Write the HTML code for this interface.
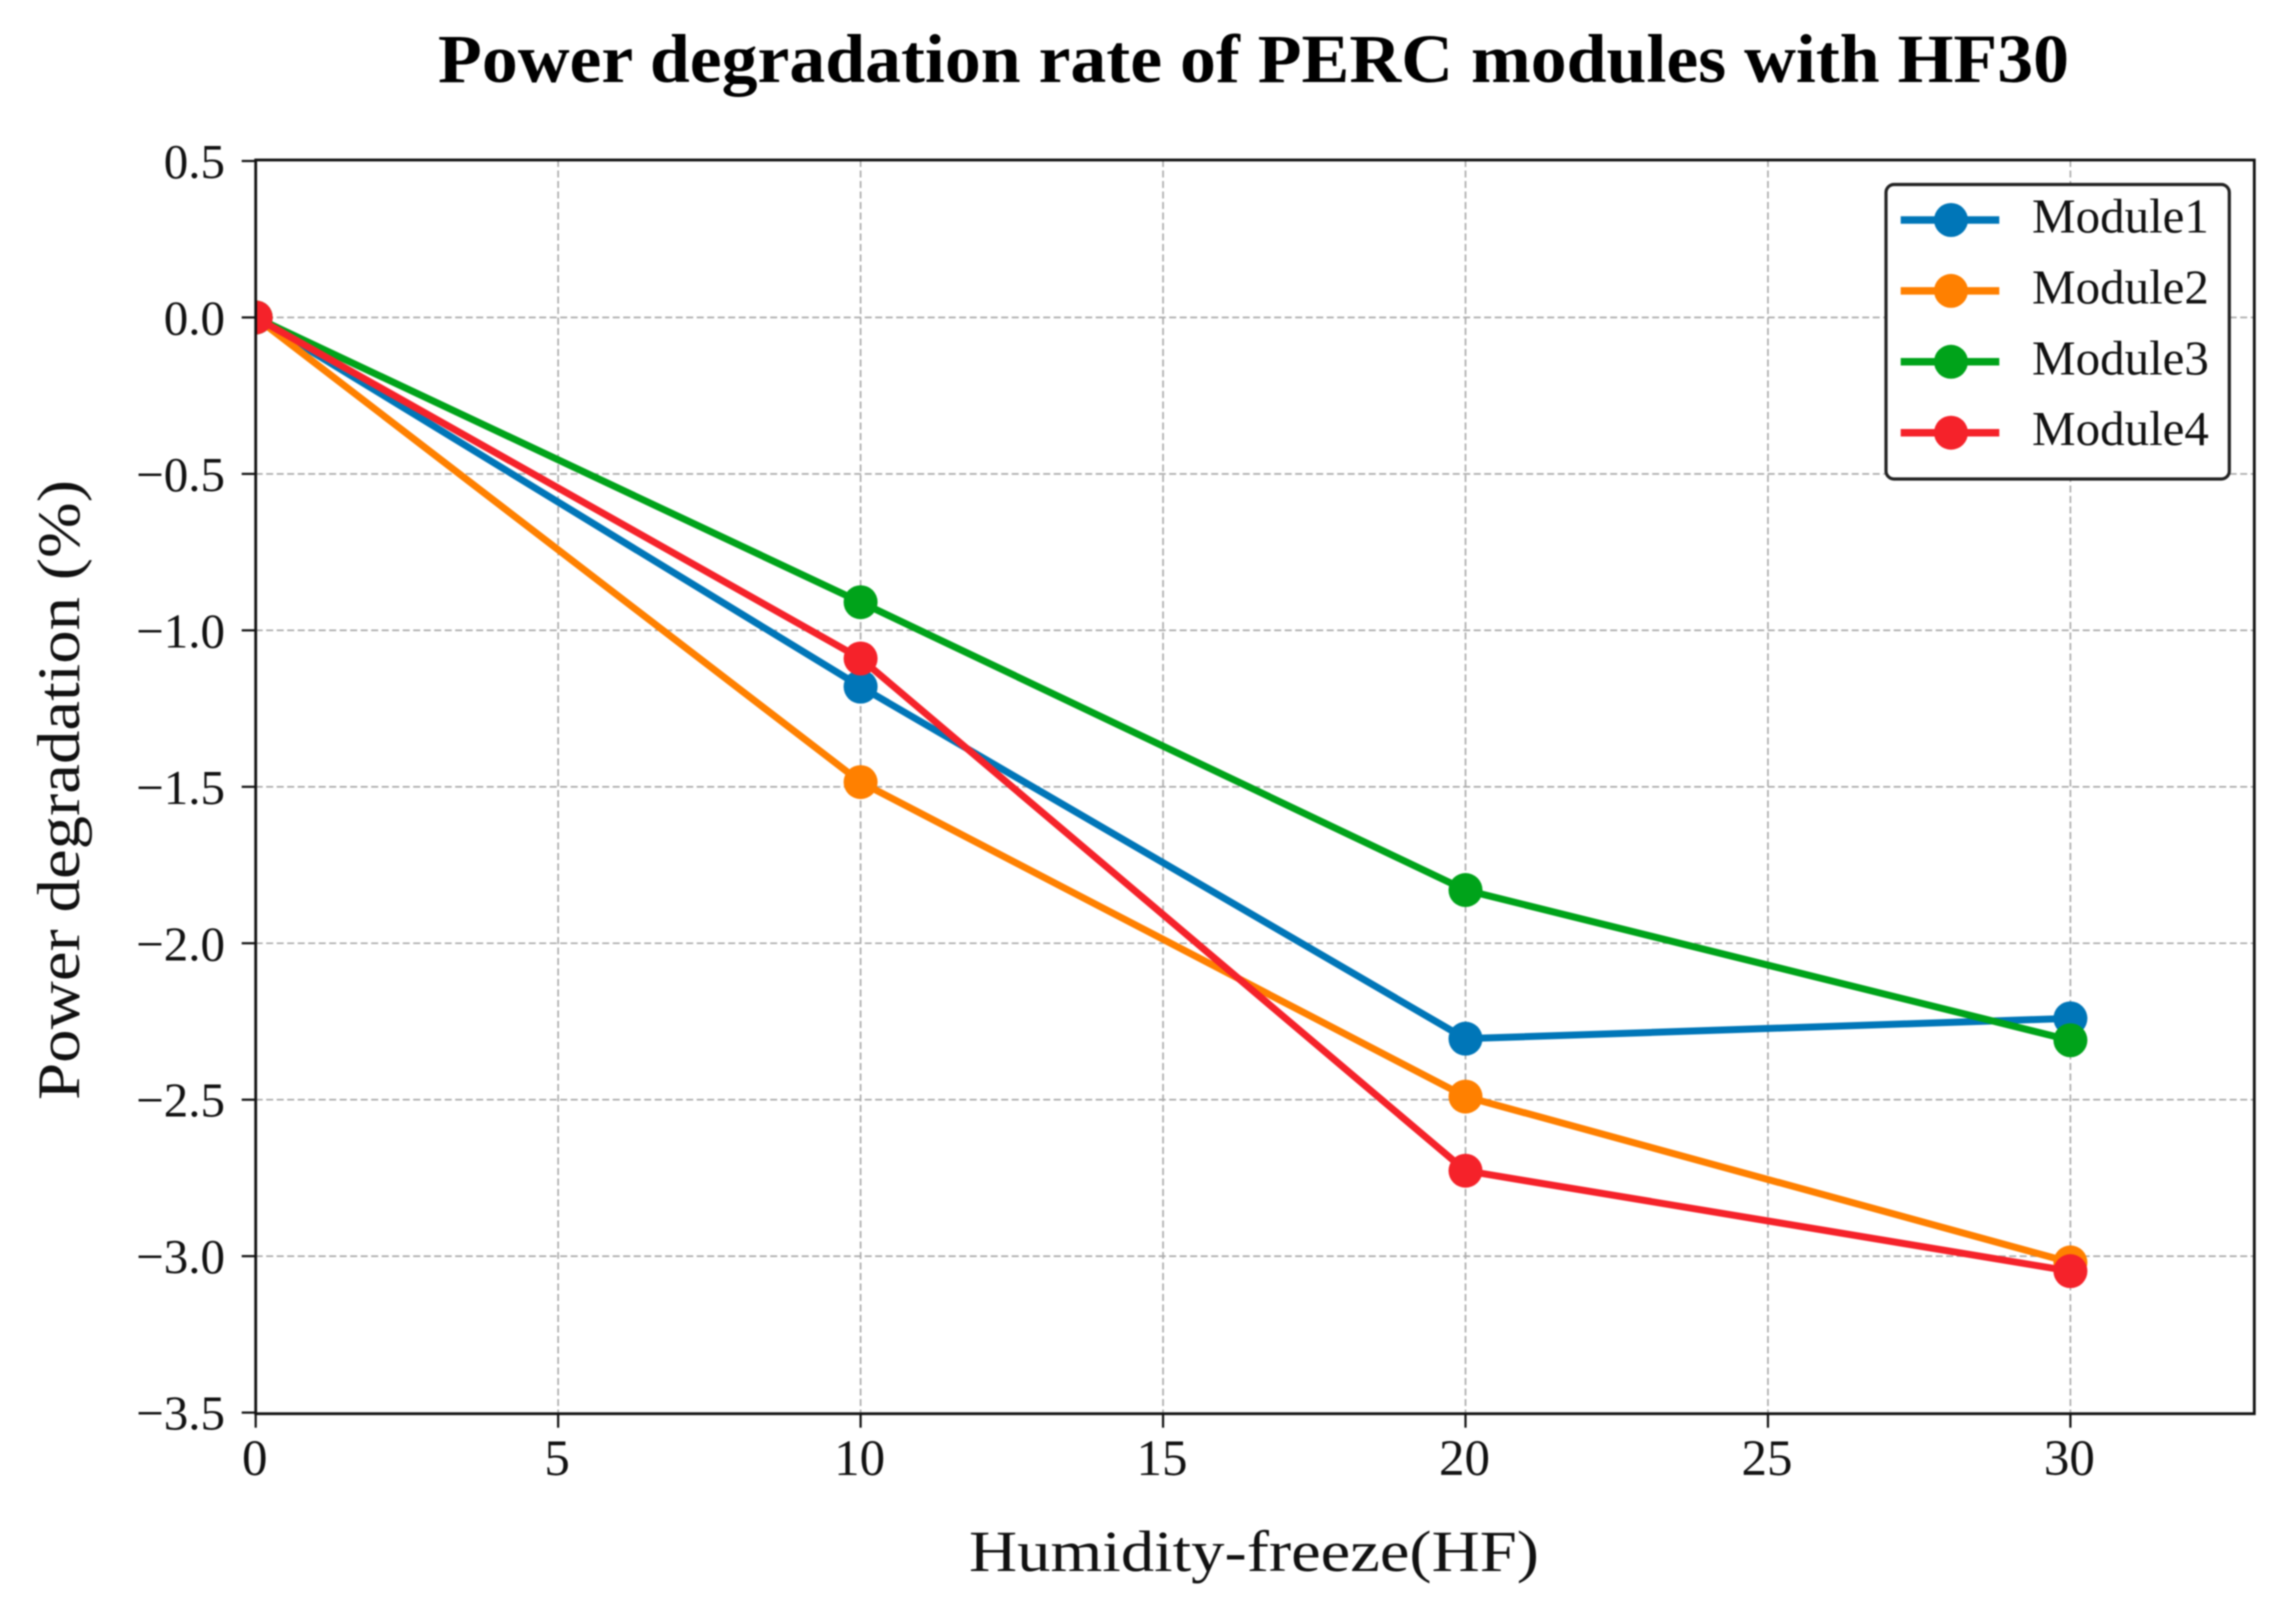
<!DOCTYPE html>
<html lang="en">
<head>
<meta charset="utf-8">
<title>Power degradation rate of PERC modules with HF30</title>
<style>
  html, body { margin: 0; padding: 0; background: #ffffff; }
  body { width: 2284px; height: 1608px; overflow: hidden; }
  svg { display: block; filter: blur(0.8px); }
  text { font-family: "Liberation Serif", serif; fill: #111111; }
</style>
</head>
<body>
<svg id="chart" xmlns="http://www.w3.org/2000/svg" width="2284" height="1608" viewBox="0 0 2284 1608">
  <rect x="0" y="0" width="2284" height="1608" fill="#ffffff"/>
  <text x="438" y="82" font-size="69" font-weight="bold" textLength="1631" lengthAdjust="spacingAndGlyphs" style="fill:#000">Power degradation rate of PERC modules with HF30</text>
  <text x="969" y="1571" font-size="58" textLength="570" lengthAdjust="spacingAndGlyphs">Humidity-freeze(HF)</text>
  <text transform="translate(79 1100) rotate(-90)" font-size="60" textLength="620" lengthAdjust="spacingAndGlyphs">Power degradation (%)</text>
  <defs>
    <clipPath id="plot-clip"><rect x="255.7" y="160" width="1998.6" height="1253.7"/></clipPath>
  </defs>
  <g id="grid"></g>
  <g id="series" clip-path="url(#plot-clip)"></g>
  <g id="axes"></g>
  <g id="legend"></g>
</svg>
<script>
// Chart data
const hfCycles = [0, 10, 20, 30];
const module1 = [0, -1.18, -2.305, -2.24];
const module2 = [0, -1.485, -2.49, -3.02];
const module3 = [0, -0.91, -1.83, -2.31];
const module4 = [0, -1.09, -2.727, -3.048];
const seriesNames = ['Module1', 'Module2', 'Module3', 'Module4'];
const xTickLabels = ['0', '5', '10', '15', '20', '25', '30'];
const yTickLabels = ['0.5', '0.0', '-0.5', '-1.0', '-1.5', '-2.0', '-2.5', '-3.0', '-3.5'];

// Presentation
const seriesValues = [module1, module2, module3, module4];
const seriesColors = ['#0076b8', '#ff8000', '#00a31a', '#f5222a'];
const SVG_NS = 'http://www.w3.org/2000/svg';
const plot = { left: 255.7, right: 2254.3, top: 160, bottom: 1413.7 };
const yRange = { top: 161, bottom: 1412.6 };
const xDomain = [0, 33.04];
const yDomain = [-3.5, 0.5];

function xScale(v) {
  return plot.left + (v - xDomain[0]) / (xDomain[1] - xDomain[0]) * (plot.right - plot.left);
}
function yScale(v) {
  return yRange.bottom - (v - yDomain[0]) / (yDomain[1] - yDomain[0]) * (yRange.bottom - yRange.top);
}
function make(tag, props, parent) {
  const el = document.createElementNS(SVG_NS, tag);
  Object.keys(props).forEach(function (k) { el.setAttribute(k, props[k]); });
  parent.appendChild(el);
  return el;
}

const gridGroup = document.getElementById('grid');
const seriesGroup = document.getElementById('series');
const axesGroup = document.getElementById('axes');
const legendGroup = document.getElementById('legend');

// Grid lines and ticks
xTickLabels.forEach(function (label) {
  const v = parseFloat(label);
  const x = xScale(v);
  if (v !== 0) {
    const g = make('line', { x1: x, x2: x, y1: plot.top, y2: plot.bottom, stroke: '#a8a8a8', 'stroke-width': 1.6, 'stroke-dasharray': '7 3.5' }, gridGroup);
    
    
  }
  const t = make('line', { x1: x, x2: x, y1: plot.bottom, y2: plot.bottom + 14, stroke: '#111', 'stroke-width': 2.2 }, axesGroup);
  
  
  const txt = make('text', { x: x - 1, y: 1475, 'font-size': 51, 'text-anchor': 'middle' }, axesGroup);
  txt.textContent = label;
  
  
});

yTickLabels.forEach(function (label) {
  const v = parseFloat(label);
  const y = yScale(v);
  if (v !== yDomain[0] && v !== yDomain[1]) {
    const g = make('line', { x1: plot.left, x2: plot.right, y1: y, y2: y, stroke: '#a8a8a8', 'stroke-width': 1.6, 'stroke-dasharray': '7 3.5' }, gridGroup);
    
    
  }
  const t = make('line', { x1: plot.left - 14, x2: plot.left, y1: y, y2: y, stroke: '#111', 'stroke-width': 2.2 }, axesGroup);
  
  
  const txt = make('text', { x: 225, y: y + 17, 'font-size': 49, 'text-anchor': 'end' }, axesGroup);
  txt.textContent = label.replace('-', '\u2212');
  
  
});

// Series
seriesValues.forEach(function (values, s) {
  const pts = values.map(function (v, i) { return xScale(hfCycles[i]) + ',' + yScale(v); }).join(' ');
  const line = make('polyline', { points: pts, fill: 'none', stroke: seriesColors[s], 'stroke-width': 7, 'stroke-linejoin': 'round' }, seriesGroup);
  
  
  values.forEach(function (v, i) {
    const c = make('circle', { cx: xScale(hfCycles[i]), cy: yScale(v), r: 17, fill: seriesColors[s] }, seriesGroup);
    
    
  });
});

// Plot frame
const frame = make('rect', { x: plot.left, y: plot.top, width: plot.right - plot.left, height: plot.bottom - plot.top, fill: 'none', stroke: '#111', 'stroke-width': 2.8 }, axesGroup);



// Legend
const legendBox = make('rect', { x: 1886, y: 184.5, width: 343.3, height: 294.5, rx: 8, ry: 8, fill: '#ffffff', stroke: '#222', 'stroke-width': 3.2 }, legendGroup);


seriesNames.forEach(function (name, s) {
  const y = 220 + s * 70.9;
  const l = make('line', { x1: 1900.7, x2: 1999.3, y1: y, y2: y, stroke: seriesColors[s], 'stroke-width': 7.5 }, legendGroup);
  
  
  const m = make('circle', { cx: 1951, cy: y, r: 17, fill: seriesColors[s] }, legendGroup);
  
  
  const t = make('text', { x: 2032, y: y + 12.5, 'font-size': 49 }, legendGroup);
  t.textContent = name;
  
  
});
</script>
</body>
</html>
